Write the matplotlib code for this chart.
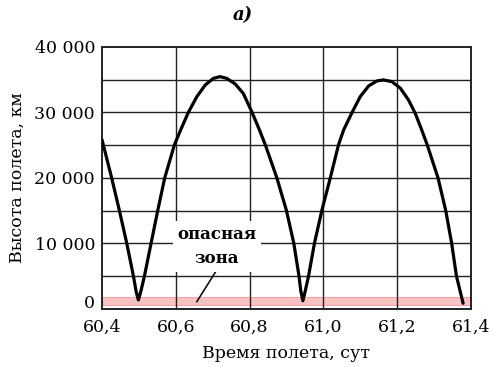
import matplotlib
matplotlib.use("Agg")
import matplotlib.pyplot as plt
from matplotlib.transforms import ScaledTranslation

# time, days / altitude, km
t = [60.400, 60.426, 60.447, 60.467, 60.485, 60.4925, 60.4985, 60.505, 60.515,
     60.533, 60.551, 60.570, 60.596, 60.613, 60.634, 60.657, 60.680, 60.702,
     60.720, 60.738, 60.761, 60.783, 60.806, 60.827, 60.843, 60.874, 60.900,
     60.920, 60.934, 60.939, 60.9446, 60.951, 60.960, 60.976, 60.996, 61.019,
     61.041, 61.055, 61.078, 61.100, 61.123, 61.145, 61.163, 61.186, 61.209,
     61.231, 61.249, 61.267, 61.282, 61.311, 61.332, 61.348, 61.361, 61.379]
h = [25800, 20000, 15000, 10000, 5000, 2600, 1330, 2600, 5000,
     10000, 15000, 20000, 25000, 27300, 30000, 32400, 34200, 35200,
     35470, 35200, 34350, 32900, 30100, 27300, 25000, 20000, 15000,
     10000, 5000, 2700, 1200, 2700, 5000, 10000, 15000, 20000,
     25000, 27300, 30000, 32400, 34050, 34800, 34970, 34700, 33700,
     31900, 29900, 27300, 25000, 20000, 15000, 10000, 5000, 830]

zone = (600, 1800)
xticks = [60.4, 60.6, 60.8, 61.0, 61.2, 61.4]
xlabels = ["60,4", "60,6", "60,8", "61,0", "61,2", "61,4"]
yticks = [0, 10000, 20000, 30000, 40000]
ylabels = ["0", "10 000", "20 000", "30 000", "40 000"]

plt.rcParams['font.family'] = ['DejaVu Serif']

fig = plt.figure(figsize=(4.93, 3.67), dpi=100)
ax = fig.add_axes([0.207, 0.159, 0.748, 0.713])

ax.axhspan(zone[0], zone[1], facecolor='#f9c2c2', edgecolor='#f3a6a6', lw=0.8, zorder=0.5)

for yy in range(5000, 40000, 5000):
    ax.axhline(yy, color='#222222', lw=1.0, zorder=1)
for xx in xticks[1:-1]:
    ax.axvline(xx, color='#222222', lw=1.0, zorder=1)

ax.plot(t, h, color='black', lw=2.3, zorder=3,
        solid_capstyle='round', solid_joinstyle='round')

ax.set_xlim(60.4, 61.4)
ax.set_ylim(0, 40000)
ax.set_xticks(xticks)
ax.set_xticklabels(xlabels)
ax.set_yticks(yticks)
ax.set_yticklabels(ylabels)
ax.tick_params(length=0, labelsize=12.5)
ax.tick_params(axis='y', pad=5)
ax.tick_params(axis='x', pad=7)
# the "0" label sits a little above the axis line in the original
lab0 = ax.get_yticklabels()[0]
lab0.set_transform(lab0.get_transform() + ScaledTranslation(0, 5 / 72, fig.dpi_scale_trans))
for s in ax.spines.values():
    s.set_linewidth(1.4)
    s.set_color('#222222')

ax.set_xlabel("Время полета, сут", fontsize=12.5, labelpad=7)
ax.set_ylabel("Высота полета, км", fontsize=12.5, labelpad=6)

ax.text(60.712, 9500, "опасная\nзона", ha='center', va='center', fontsize=12,
        fontweight='bold', linespacing=1.6, zorder=4,
        bbox=dict(facecolor='white', edgecolor='none', pad=3))
ax.plot([60.711, 60.657], [5900, 1070], color='black', lw=1.1, zorder=3)

fig.text(0.493, 0.958, "а)", ha='center', va='center', fontsize=13,
         fontweight='bold', fontstyle='italic')

fig.savefig("out.png", dpi=100)
